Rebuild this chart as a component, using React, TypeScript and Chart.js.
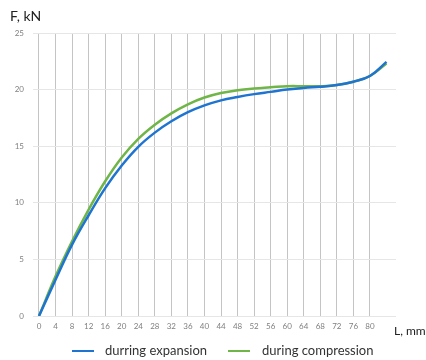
import React, { useEffect, useRef } from "react";
import { Chart, registerables } from "chart.js";

Chart.register(...registerables);

const lengths = [0, 4, 8, 12, 16, 20, 24, 28, 32, 36, 40, 44, 48, 52, 56, 60, 64, 68, 72, 76, 80, 84];
const expansion = [0, 3.2, 6.3, 8.9, 11.3, 13.3, 14.95, 16.2, 17.2, 18.0, 18.6, 19.05, 19.35, 19.6, 19.8, 20.0, 20.15, 20.25, 20.4, 20.7, 21.2, 22.45];
const compression = [0, 3.5, 6.6, 9.4, 11.9, 14.0, 15.65, 16.9, 17.9, 18.7, 19.3, 19.7, 19.95, 20.1, 20.2, 20.3, 20.3, 20.3, 20.4, 20.7, 21.2, 22.3];
const xTicks = [0, 4, 8, 12, 16, 20, 24, 28, 32, 36, 40, 44, 48, 52, 56, 60, 64, 68, 72, 76, 80];
const yTicks = [0, 5, 10, 15, 20, 25];
const seriesNames = ["durring expansion", "during compression"];
const yTitle = "F, kN";
const xTitle = "L, mm";

const BLUE = "#1f74d0";
const GREEN = "#6fb547";
const FONT = "Lato, 'Open Sans', sans-serif";

export default function App() {
  const ref = useRef<HTMLCanvasElement | null>(null);

  useEffect(() => {
    if (!ref.current) return;
    const extras = {
      id: "extras",
      afterDraw(chart: any) {
        const ctx = chart.ctx;
        ctx.save();
        ctx.fillStyle = "#222";
        ctx.textBaseline = "middle";
        ctx.textAlign = "left";
        ctx.font = `14px ${FONT}`;
        ctx.fillText(yTitle, 10, 16);
        ctx.font = `12px ${FONT}`;
        ctx.fillText(xTitle, 394, 331);
        const items = [
          { x: 72, tx: 105 },
          { x: 228, tx: 262 },
        ];
        chart.data.datasets.forEach((ds: any, i: number) => {
          const it = items[i];
          ctx.strokeStyle = ds.borderColor;
          ctx.lineWidth = 2;
          ctx.beginPath();
          ctx.moveTo(it.x, 351);
          ctx.lineTo(it.x + 22, 351);
          ctx.stroke();
          ctx.fillStyle = "#333";
          ctx.font = `13px ${FONT}`;
          ctx.fillText(ds.label, it.tx, 351);
        });
        ctx.restore();
      },
    };

    const chart = new Chart(ref.current, {
      type: "line",
      data: {
        datasets: [
          {
            label: seriesNames[0],
            data: lengths.map((x, i) => ({ x, y: expansion[i] })),
            borderColor: BLUE,
            backgroundColor: BLUE,
            borderWidth: 2.5,
            pointRadius: 0,
            tension: 0.4,
          },
          {
            label: seriesNames[1],
            data: lengths.map((x, i) => ({ x, y: compression[i] })),
            borderColor: GREEN,
            backgroundColor: GREEN,
            borderWidth: 2.5,
            pointRadius: 0,
            tension: 0.4,
          },
        ],
      },
      options: {
        animation: false,
        responsive: false,
        maintainAspectRatio: false,
        layout: { padding: { left: 0, right: 30, top: 33, bottom: 0 } },
        plugins: {
          legend: { display: false },
          tooltip: { enabled: false },
        },
        scales: {
          x: {
            type: "linear",
            min: -1.45,
            max: 86.3,
            afterBuildTicks: (scale: any) => {
              scale.ticks = xTicks.map((v) => ({ value: v }));
            },
            afterFit: (scale: any) => {
              scale.height = 44;
            },
            grid: { color: "#c4c4c4", lineWidth: 1, drawTicks: false },
            border: { display: false },
            ticks: {
              padding: 6,
              color: "#7f7f7f",
              font: { size: 8, family: FONT },
              maxRotation: 0,
              autoSkip: false,
            },
          },
          y: {
            min: 0,
            max: 25,
            afterBuildTicks: (scale: any) => {
              scale.ticks = yTicks.map((v) => ({ value: v }));
            },
            afterFit: (scale: any) => {
              scale.width = 33;
            },
            grid: { color: "#e6e6e6", lineWidth: 1, drawTicks: false },
            border: { display: false },
            ticks: {
              padding: 9,
              color: "#7f7f7f",
              font: { size: 8, family: FONT },
            },
          },
        },
      },
      plugins: [extras],
    } as any);
    return () => chart.destroy();
  }, []);

  return (
    <div style={{ position: "absolute", left: 0, top: 0, width: 426, height: 360, background: "#fff" }}>
      <canvas ref={ref} width={426} height={360} style={{ width: 426, height: 360 }} />
    </div>
  );
}
